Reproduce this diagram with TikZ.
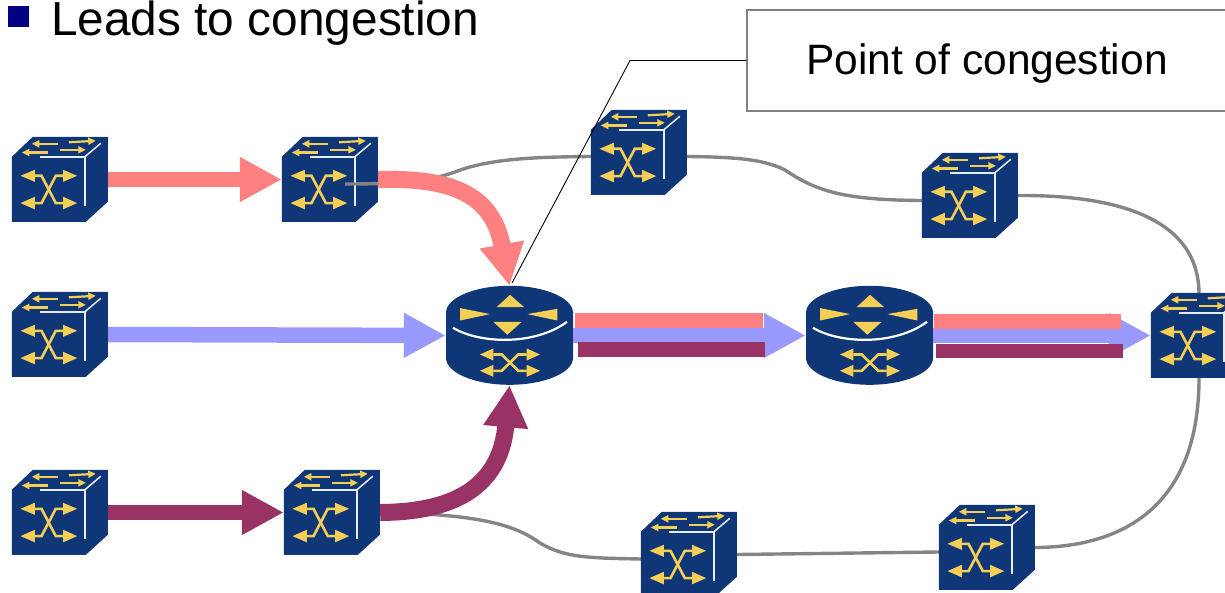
\documentclass[tikz,border=0pt]{standalone}
\usepackage{fontspec}
\setmainfont{Liberation Sans}
\usetikzlibrary{arrows.meta}
\definecolor{navy}{HTML}{0F3778}
\definecolor{gold}{HTML}{F5CE55}
\definecolor{pinkflow}{HTML}{FF8080}
\definecolor{blueflow}{HTML}{9999FF}
\definecolor{purpleflow}{HTML}{993366}
\definecolor{linkgray}{HTML}{858585}
\definecolor{edgewhite}{HTML}{E8ECF5}
\definecolor{bulletblue}{HTML}{000080}
\tikzset{
  cubecell/.style={rectangle,inner sep=0pt,minimum width=96pt,minimum height=85pt},
  drumcell/.style={rectangle,inner sep=0pt,minimum width=127pt,minimum height=99pt},
  link/.style={draw=linkgray,line width=3.4pt},
  flow/.style={line width=15.5pt,-{Triangle[length=42pt,width=42pt]}},
  bentflow/.style={line width=17pt,-{Triangle[length=42pt,width=42pt]}},
  thinarrow/.style={draw=gold,line width=2.2pt,-{Triangle[length=7.5pt,width=7pt]}},
  crossline/.style={draw=gold,line width=2.6pt},
  switchicon/.pic={
    \fill[navy] (0,20)--(21,0)--(96,0)--(96,65)--(74,85)--(0,85)--cycle;
    \draw[edgewhite,line width=1.5pt] (28,20)--(73,20)--(73,69);
    \draw[edgewhite,line width=1.5pt] (73,20)--(89,6.5);
    \draw[thinarrow] (46,7)--(20,7);
    \draw[thinarrow] (57,5.5)--(84,4);
    \draw[thinarrow] (36,15.7)--(10,15.7);
    \draw[thinarrow] (48,13)--(74,13);
    \draw[crossline] (23,39)--(29.7,39)--(44,66.3)--(51.3,66.3);
    \draw[crossline] (23,66.3)--(29.7,66.3)--(44,39)--(51.3,39);
    \fill[gold] (8.7,39)--(23,33)--(23,45)--cycle;
    \fill[gold] (8.7,66.3)--(23,60)--(23,72.5)--cycle;
    \fill[gold] (65.3,39)--(51.3,33)--(51.3,45)--cycle;
    \fill[gold] (65.3,66.3)--(51.3,60)--(51.3,72.5)--cycle;
  },
  routericon/.pic={
    \fill[navy] (-63.5,27) .. controls (-63.5,12.09) and (-35.07,0) .. (0,0)
      .. controls (35.07,0) and (63.5,12.09) .. (63.5,27) -- (63.5,72)
      .. controls (63.5,86.9) and (35.07,99) .. (0,99)
      .. controls (-35.07,99) and (-63.5,86.9) .. (-63.5,72) -- cycle;
    \draw[white,line width=2.2pt] (-56.5,42) .. controls (-30,58) and (25,60) .. (57.5,36);
    \fill[gold] (-12.8,21.3)--(14.5,21.3)--(0.5,9)--cycle;
    \fill[gold] (-49.5,22.3)--(-49.5,34.7)--(-19.5,28.3)--cycle;
    \fill[gold] (47.8,23)--(47.8,34.7)--(17.8,28.3)--cycle;
    \fill[gold] (-16.2,36)--(12.2,36)--(-2.2,49)--cycle;
    \draw[crossline] (-16.2,68.7)--(-7.8,68.7)--(8.8,85)--(17.2,85);
    \draw[crossline] (-16.2,85)--(-7.8,85)--(8.8,68.7)--(17.2,68.7);
    \fill[gold] (-29.5,68.7)--(-16.2,62.7)--(-16.2,74.7)--cycle;
    \fill[gold] (-29.5,85)--(-16.2,79)--(-16.2,91)--cycle;
    \fill[gold] (30.5,68.7)--(17.2,62.7)--(17.2,74.7)--cycle;
    \fill[gold] (30.5,85)--(17.2,79)--(17.2,91)--cycle;
  },
}
\begin{document}
\begin{tikzpicture}[x=1pt,y=-1pt]
\useasboundingbox (0,0) rectangle (1225,593);
\clip (0,0) rectangle (1225,593);

% anchors of the equipment
\node[cubecell] (s1) at (60,179.5) {};
\node[cubecell] (s2) at (330,179.5) {};
\node[cubecell] (s3) at (639,152.5) {};
\node[cubecell] (s4) at (970,195.5) {};
\node[cubecell] (s5) at (60,334.5) {};
\node[cubecell] (s6) at (1199,335.5) {};
\node[cubecell] (s7) at (60,512.5) {};
\node[cubecell] (s8) at (332,512.5) {};
\node[cubecell] (s9) at (689,554.5) {};
\node[cubecell] (s10) at (987,547.5) {};
\node[drumcell] (r1) at (509.5,335.5) {};
\node[drumcell] (r2) at (869.5,335.5) {};

% grey links behind the equipment
\draw[link] ([yshift=-4pt]s3.east) .. controls (740,157) and (765,160) .. (785,170)
   .. controls (815,190) and (840,200) .. ([yshift=-5pt]s4.west);
\draw[link] (s4.east) .. controls (1110,195) and (1198,215) .. (s6.north);
\draw[link] (s6.south) .. controls (1199,500) and (1130,547) .. (s10.east);
\draw[link] ([yshift=-4.5pt]s10.west) -- (s9.east);
\draw[link] ([yshift=-4.5pt]s9.west) .. controls (590,558) and (565,558) .. (540,543)
   .. controls (515,525) and (480,514) .. (s8.east);

% equipment
\foreach \n in {s1,s2,s3,s4,s5,s6,s7,s8,s9,s10}
  \pic at (\n.north west) {switchicon};
\pic at (r1.north) {routericon};
\pic at (r2.north) {routericon};

% grey link that starts inside the second switch
\draw[link] (345,184) .. controls (400,184) and (430,181) .. (455,172)
   .. controls (490,158) and (540,157) .. ([yshift=-4pt]s3.west);

% coloured flows
\draw[flow,pinkflow] (s1.east) -- (s2.west);
\draw[flow,blueflow] (s5.east) -- (r1.west);
\draw[flow,purpleflow] (s7.east) -- (s8.west);
\draw[bentflow,pinkflow] (s2.east) .. controls (445,178) and (492,190) .. (r1.north);
\draw[bentflow,purpleflow] (s8.east) .. controls (450,512) and (500,490) .. (r1.south);
\draw[flow,blueflow] (r1.east) -- (r2.west);
\draw[flow,blueflow] (r2.east) -- (s6.west);
\fill[pinkflow] (575,313) rectangle (763,328);
\fill[purpleflow] (578,342) rectangle (765,357);
\fill[pinkflow] (934,314) rectangle (1121,329);
\fill[purpleflow] (936,344) rectangle (1123,358);

% callout
\coordinate (bend) at (630,60.5);
\coordinate (tip) at (512,283);
\node[draw=gray,line width=1.5pt,fill=white,rectangle,inner sep=0pt,minimum width=480pt,minimum height=101pt,text height=31pt,text depth=2pt,font=\fontsize{42.5}{46}\selectfont] (callout) at (987,60.5) {Point of congestion};
\draw[black,line width=0.9pt] (callout.west) -- (bend) -- (tip);

% heading
\fill[bulletblue] (8,6) rectangle (29,27);
\node[anchor=base west,inner sep=0pt,font=\fontsize{47.8}{52}\selectfont] (heading) at (51,35.5) {Leads to congestion};
\end{tikzpicture}
\end{document}
